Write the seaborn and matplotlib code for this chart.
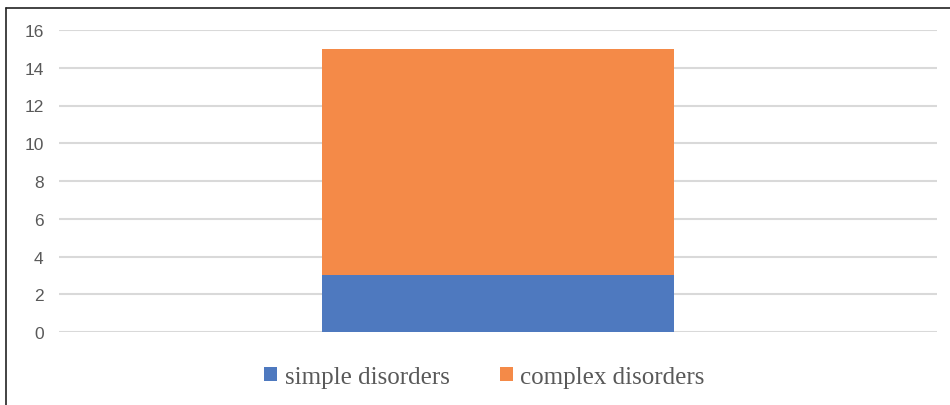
import matplotlib
matplotlib.use("Agg")
import matplotlib.pyplot as plt
from matplotlib.lines import Line2D
from matplotlib.patches import Patch
import seaborn as sns
import pandas as pd

categories = [""]
simple_disorders = [3]
complex_disorders = [12]
y_ticks = [0, 2, 4, 6, 8, 10, 12, 14, 16]

blue = "#4E79BF"
orange = "#F48A48"
grid_gray = "#D9D9D9"
text_gray = "#595959"

sns.set_theme(style="white")
plt.rcParams["font.family"] = ["Liberation Sans", "DejaVu Sans"]

df = pd.DataFrame({
    "group": categories,
    "simple": simple_disorders,
    "complex": complex_disorders,
})
df["total"] = df["simple"] + df["complex"]

fig = plt.figure(figsize=(9.5, 4.06), dpi=100)
ax = fig.add_axes([59 / 950, 1 - 333 / 406, (937 - 59) / 950, (333 - 31) / 406])

# stacked bar: the total drawn first, the lower segment over it
sns.barplot(data=df, x="group", y="total", color=orange, width=0.4,
            saturation=1, linewidth=0, ax=ax, zorder=3)
sns.barplot(data=df, x="group", y="simple", color=blue, width=0.4,
            saturation=1, linewidth=0, ax=ax, zorder=4)

ax.set_xlim(-0.5, 0.5)
ax.set_ylim(0, 16)
ax.set_yticks(y_ticks)
ax.set_yticklabels([str(t) for t in y_ticks])
ax.yaxis.grid(True, color=grid_gray, linewidth=1.5, zorder=0)
ax.set_axisbelow(True)
for s in ax.spines.values():
    s.set_visible(False)
ax.tick_params(axis="y", length=0, pad=11, labelsize=12.5, labelcolor=text_gray)
ax.tick_params(axis="x", length=0)
ax.set_xticklabels([])
ax.set_xlabel("")
ax.set_ylabel("")

handles = [Patch(facecolor=blue, edgecolor="none", label="simple disorders"),
           Patch(facecolor=orange, edgecolor="none", label="complex disorders")]
fig.legend(handles=handles, loc="center", bbox_to_anchor=(484.5 / 950, 1 - 378 / 406),
           ncol=2, frameon=False, handlelength=0.52, handleheight=0.52,
           handletextpad=0.3, columnspacing=2.0,
           prop={"family": "Liberation Serif", "size": 18},
           labelcolor=text_gray)

# outer frame along the left and top edges
fig.add_artist(Line2D([6 / 950, 6 / 950], [0, 1 - 9 / 406], color="#222222",
                      linewidth=1.2, transform=fig.transFigure))
fig.add_artist(Line2D([6 / 950, 1], [1 - 9 / 406, 1 - 9 / 406], color="#222222",
                      linewidth=1.2, transform=fig.transFigure))

fig.savefig("out.png", dpi=100, facecolor="white")
